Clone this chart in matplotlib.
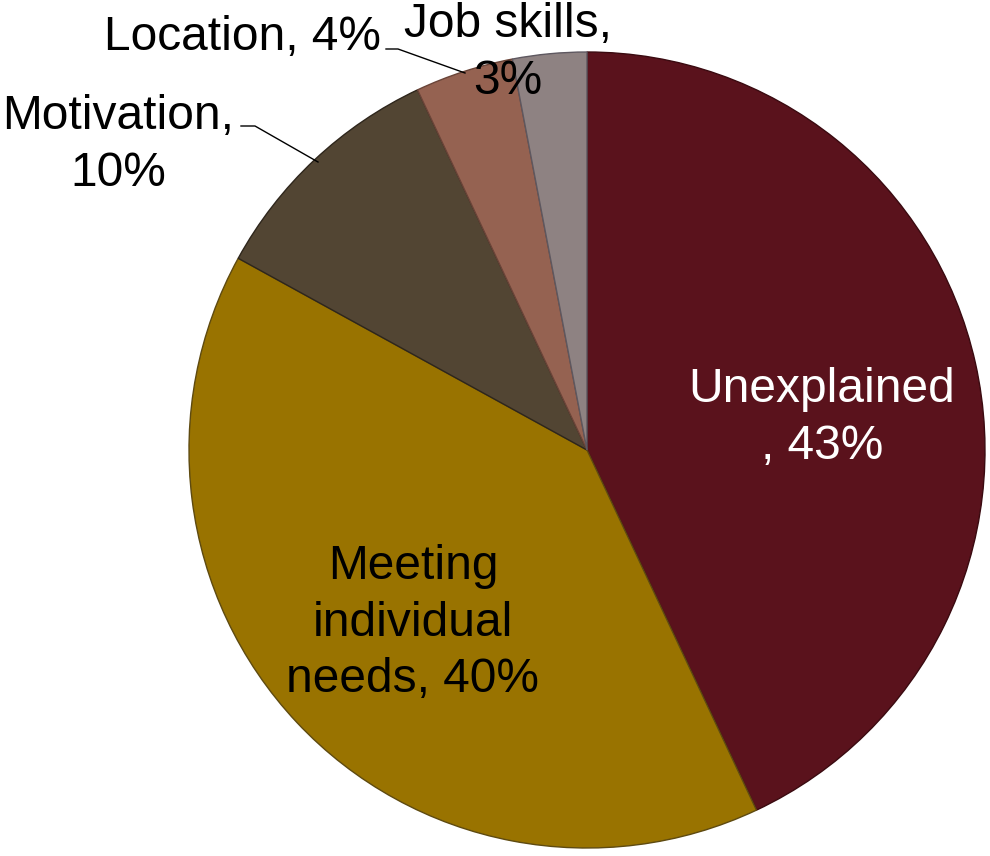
import numpy as np
import matplotlib.pyplot as plt

plt.rcParams['font.family'] = ['Liberation Sans', 'DejaVu Sans']

labels = ['Unexplained\n, 43%', 'Meeting\nindividual\nneeds, 40%', 'Motivation,\n10%', 'Location, 4%', 'Job skills,\n3%']
shares = [43, 40, 10, 4, 3]
colors = ['#5A121C', '#997300', '#524533', '#956251', '#8E8282']
edges = ['#3A0A10', '#5E4A10', '#2E261C', '#6A4438', '#5E5860']
text_colors = ['white', 'black', 'black', 'black', 'black']

W, H = 990, 856
cx, cy, R = 587, 450, 398

def to_data(px, py):
    return (px - cx) / R, (cy - py) / R

fig = plt.figure(figsize=(W / 100, H / 100), dpi=100)
ax = fig.add_axes([(cx - R) / W, (H - cy - R) / H, 2 * R / W, 2 * R / H])

wedges, _ = ax.pie(shares, colors=colors, startangle=90, counterclock=False,
                   radius=1, wedgeprops=dict(linewidth=1.0))
for w, ec in zip(wedges, edges):
    w.set_edgecolor(ec)

ax.set_xlim(-1, 1)
ax.set_ylim(-1, 1)
ax.axis('off')

# label positions in pixels (centre of text block)
label_pos = [(822, 418), (413, 623), (118, 145), (242, 38), (508, 53)]
for lab, (px, py), tc in zip(labels, label_pos, text_colors):
    x, y = to_data(px, py)
    ax.text(x, y, lab, ha='center', va='center', fontsize=34.5, color=tc,
            linespacing=1.33, clip_on=False)

# leader lines
for pts in ([(241, 126), (255, 126), (318, 162)], [(386, 49), (398, 49), (465, 73)]):
    xs, ys = zip(*[to_data(p, q) for p, q in pts])
    ax.plot(xs, ys, color='black', linewidth=1.0, clip_on=False)

fig.savefig('out.png', dpi=100)
